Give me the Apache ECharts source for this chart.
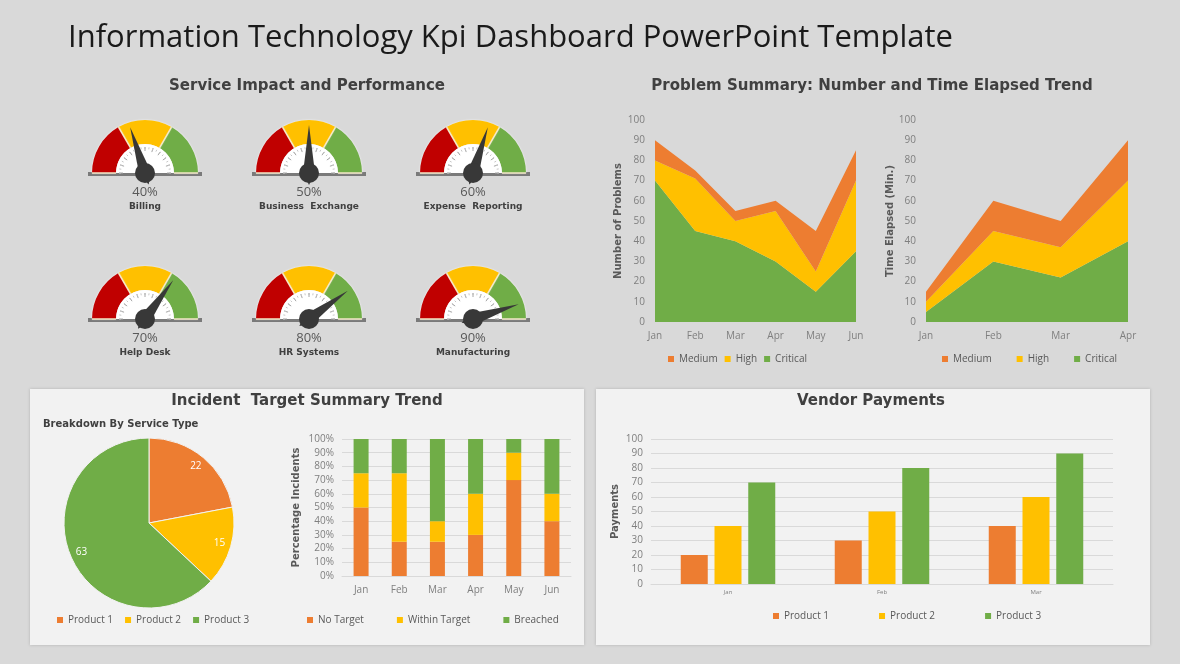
<!DOCTYPE html>
<html>
<head>
<meta charset="utf-8">
<title>Information Technology Kpi Dashboard</title>
<script src="https://cdn.jsdelivr.net/npm/echarts@6/dist/echarts.min.js"></script>
<style>
	html, body { margin: 0; padding: 0; background: #d9d9d9; }
	#main { width: 1180px; height: 664px; }
</style>
</head>
<body>
<div id="main"></div>
<script>
	// gauges
	var gaugeNames = ['Billing', 'Business  Exchange', 'Expense  Reporting', 'Help Desk', 'HR Systems', 'Manufacturing'];
	var gaugeValues = [40, 50, 60, 70, 80, 90];

	// problem summary
	var problemMonths = ['Jan', 'Feb', 'Mar', 'Apr', 'May', 'Jun'];
	var problemCritical = [70, 45, 40, 30, 15, 35];
	var problemHigh = [10, 26, 10, 25, 10, 35];
	var problemMedium = [10, 4, 5, 5, 20, 15];

	// time elapsed
	var elapsedMonths = ['Jan', 'Feb', 'Mar', 'Apr'];
	var elapsedCritical = [5, 30, 22, 40];
	var elapsedHigh = [5, 15, 15, 30];
	var elapsedMedium = [5, 15, 13, 20];

	// breakdown by service type
	var productNames = ['Product 1', 'Product 2', 'Product 3'];
	var serviceBreakdown = [22, 15, 63];

	// incident target trend (%)
	var incidentMonths = ['Jan', 'Feb', 'Mar', 'Apr', 'May', 'Jun'];
	var noTarget = [50, 25, 25, 30, 70, 40];
	var withinTarget = [25, 50, 15, 30, 20, 20];
	var breached = [25, 25, 60, 40, 10, 40];

	// vendor payments
	var vendorMonths = ['Jan', 'Feb', 'Mar'];
	var vendorProduct1 = [20, 30, 40];
	var vendorProduct2 = [40, 50, 60];
	var vendorProduct3 = [70, 80, 90];

	var ORANGE = '#ED7D31', YELLOW = '#FFC000', GREEN = '#70AD47', RED = '#C00000';
	var productColors = [ORANGE, YELLOW, GREEN];
	var labelGray = '#7f7f7f';
	var titleFont = '"DejaVu Sans", Verdana, sans-serif';

	var chart = echarts.init(document.getElementById('main'));
	var series = [];
	var graphics = [];

	// panels
	[30, 596].forEach(function (x) {
		graphics.push({
			type: 'rect', z: 0,
			shape: { x: x, y: 389, width: 554, height: 256 },
			style: { fill: '#f2f2f2', shadowBlur: 3, shadowColor: 'rgba(0,0,0,0.18)' }
		});
	});

	function text(str, x, y, font, fill, align) {
		graphics.push({
			type: 'text', z: 10, x: x, y: y,
			style: { text: str, font: font, fill: fill, align: align || 'center', textAlign: align || 'center', verticalAlign: 'middle', textVerticalAlign: 'middle' }
		});
	}
	text('Information Technology Kpi Dashboard PowerPoint Template', 68, 38, '31px "Open Sans", sans-serif', '#1a1a1a', 'left');
	text('Service Impact and Performance', 307, 86, 'bold 15px ' + titleFont, '#404040');
	text('Problem Summary: Number and Time Elapsed Trend', 872, 86, 'bold 15px ' + titleFont, '#404040');
	text('Incident  Target Summary Trend', 307, 401, 'bold 15px ' + titleFont, '#404040');
	text('Vendor Payments', 871, 401, 'bold 15px ' + titleFont, '#404040');
	text('Breakdown By Service Type', 43, 424, 'bold 10px ' + titleFont, '#404040', 'left');

	// gauges
	var gaugeCols = [145, 309, 473], gaugeRows = [173, 319];
	gaugeValues.forEach(function (v, i) {
		var c = [gaugeCols[i % 3], gaugeRows[Math.floor(i / 3)]];
		graphics.push({
			type: 'rect', z: 1,
			shape: { x: c[0] - 57, y: c[1] - 1, width: 114, height: 4 },
			style: { fill: '#7a7a7a' }
		});
		series.push({
			type: 'gauge', center: c, radius: 53, startAngle: 180, endAngle: 0,
			min: 0, max: 100, splitNumber: 3, animation: false, silent: true,
			axisLine: { lineStyle: { width: 24, color: [[1 / 3, RED], [2 / 3, YELLOW], [1, GREEN]], shadowBlur: 2, shadowColor: 'rgba(255,255,255,0.9)' } },
			splitLine: { distance: -24, length: 24, lineStyle: { color: '#f5e9c9', width: 1.5 } },
			axisTick: { show: false }, axisLabel: { show: false },
			pointer: { show: false }, anchor: { show: false },
			title: { show: false }, detail: { show: false },
			data: [{ value: v }]
		});
		series.push({
			type: 'gauge', center: c, radius: 29, startAngle: 180, endAngle: 0,
			min: 0, max: 100, splitNumber: 10, animation: false,
			axisLine: { lineStyle: { width: 29, color: [[1, '#ffffff']] } },
			splitLine: { distance: -26, length: 4, lineStyle: { color: '#a6a6a6', width: 1 } },
			axisTick: { distance: -26, length: 2, splitNumber: 2, lineStyle: { color: '#c8c8c8', width: 1 } },
			axisLabel: { show: false },
			pointer: { length: 48, width: 6, itemStyle: { color: '#383838' } },
			anchor: { show: true, size: 20, showAbove: true, itemStyle: { color: '#383838' } },
			title: { offsetCenter: [0, 34], fontSize: 9, fontWeight: 'bold', color: '#404040', fontFamily: titleFont },
			detail: { offsetCenter: [0, 19], fontSize: 13, fontWeight: 'normal', color: '#595959', formatter: '{value}%', fontFamily: 'Open Sans' },
			data: [{ value: v, name: gaugeNames[i] }]
		});
	});

	function area(name, data, color, stack, idx) {
		return {
			type: 'line', name: name, data: data, stack: stack,
			xAxisIndex: idx, yAxisIndex: idx, symbol: 'none', showSymbol: false,
			lineStyle: { width: 0 }, itemStyle: { color: color },
			areaStyle: { color: color, opacity: 1 }
		};
	}
	series.push(area('Critical', problemCritical, GREEN, 'problems', 0));
	series.push(area('High', problemHigh, YELLOW, 'problems', 0));
	series.push(area('Medium', problemMedium, ORANGE, 'problems', 0));
	series.push(area('Critical', elapsedCritical, GREEN, 'elapsed', 1));
	series.push(area('High', elapsedHigh, YELLOW, 'elapsed', 1));
	series.push(area('Medium', elapsedMedium, ORANGE, 'elapsed', 1));

	// pie
	series.push({
		type: 'pie', center: [149, 523], radius: 85, startAngle: 90, clockwise: true,
		label: { show: false }, labelLine: { show: false },
		itemStyle: { borderColor: '#f2f2f2', borderWidth: 1 },
		data: productNames.map(function (n, i) {
			return { name: n, value: serviceBreakdown[i], itemStyle: { color: productColors[i] } };
		})
	});
	series.push({
		type: 'pie', center: [149, 523], radius: [56, 85], startAngle: 90, clockwise: true,
		silent: true, legendHoverLink: false,
		itemStyle: { color: 'rgba(0,0,0,0)' },
		label: { position: 'inside', color: '#ffffff', fontSize: 10, formatter: '{c}' },
		data: productNames.map(function (n, i) { return { name: n, value: serviceBreakdown[i] }; })
	});

	// incident bars
	[['No Target', noTarget, ORANGE], ['Within Target', withinTarget, YELLOW], ['Breached', breached, GREEN]].forEach(function (s) {
		series.push({
			type: 'bar', name: s[0], data: s[1], stack: 'incident',
			xAxisIndex: 2, yAxisIndex: 2, barWidth: 15, itemStyle: { color: s[2] }
		});
	});

	// vendor bars
	[vendorProduct1, vendorProduct2, vendorProduct3].forEach(function (d, i) {
		series.push({
			type: 'bar', name: productNames[i], data: d,
			xAxisIndex: 3, yAxisIndex: 3, barWidth: 27, barGap: '25%',
			itemStyle: { color: productColors[i] }
		});
	});

	var catLabel = { color: labelGray, fontSize: 10, margin: 9 };
	var valLabel = { color: labelGray, fontSize: 10 };
	var nameStyle = { fontWeight: 'bold', fontSize: 10, color: '#595959', fontFamily: titleFont };
	var legendBase = { icon: 'rect', itemWidth: 6, itemHeight: 6, textStyle: { fontSize: 10, color: '#595959' }, selectedMode: false };

	chart.setOption({
		backgroundColor: '#d9d9d9',
		animation: false,
		textStyle: { fontFamily: 'Open Sans' },
		graphic: graphics,
		grid: [
			{ left: 655, right: 324, top: 120, bottom: 342 },
			{ left: 926, right: 52, top: 120, bottom: 342 },
			{ left: 342, right: 609, top: 439, bottom: 88 },
			{ left: 651, right: 67, top: 439, bottom: 80 }
		],
		xAxis: [
			{ gridIndex: 0, type: 'category', data: problemMonths, boundaryGap: false, axisLine: { show: false }, axisTick: { show: false }, axisLabel: catLabel },
			{ gridIndex: 1, type: 'category', data: elapsedMonths, boundaryGap: false, axisLine: { show: false }, axisTick: { show: false }, axisLabel: catLabel },
			{ gridIndex: 2, type: 'category', data: incidentMonths, axisLine: { lineStyle: { color: '#d9d9d9' } }, axisTick: { show: false }, axisLabel: catLabel },
			{ gridIndex: 3, type: 'category', data: vendorMonths, axisLine: { lineStyle: { color: '#d9d9d9' } }, axisTick: { show: false }, axisLabel: { color: labelGray, fontSize: 6, margin: 5 } }
		],
		yAxis: [
			{ gridIndex: 0, type: 'value', min: 0, max: 100, interval: 10, name: 'Number of Problems', nameLocation: 'middle', nameGap: 32, nameTextStyle: nameStyle,
				axisLabel: Object.assign({ margin: 10 }, valLabel), splitLine: { show: false }, axisLine: { show: false } },
			{ gridIndex: 1, type: 'value', min: 0, max: 100, interval: 10, name: 'Time Elapsed (Min.)', nameLocation: 'middle', nameGap: 31, nameTextStyle: nameStyle,
				axisLabel: Object.assign({ margin: 10 }, valLabel), splitLine: { show: false }, axisLine: { show: false } },
			{ gridIndex: 2, type: 'value', min: 0, max: 100, interval: 10, name: 'Percentage Incidents', nameLocation: 'middle', nameGap: 41, nameTextStyle: nameStyle,
				axisLabel: Object.assign({ margin: 8, formatter: '{value}%' }, valLabel), splitLine: { lineStyle: { color: '#d9d9d9' } }, axisLine: { show: false } },
			{ gridIndex: 3, type: 'value', min: 0, max: 100, interval: 10, name: 'Payments', nameLocation: 'middle', nameGap: 31, nameTextStyle: nameStyle,
				axisLabel: Object.assign({ margin: 8 }, valLabel), splitLine: { lineStyle: { color: '#d9d9d9' } }, axisLine: { show: false } }
		],
		legend: [
			Object.assign({ data: ['Medium', 'High', 'Critical'], left: 663, top: 349, itemGap: 7 }, legendBase),
			Object.assign({ data: ['Medium', 'High', 'Critical'], left: 937, top: 349, itemGap: 25 }, legendBase),
			Object.assign({ data: productNames, left: 52, top: 610, itemGap: 12 }, legendBase),
			Object.assign({ data: ['No Target', 'Within Target', 'Breached'], left: 302, top: 610, itemGap: 33 }, legendBase),
			Object.assign({ data: productNames, left: 768, top: 606, itemGap: 50 }, legendBase)
		],
		series: series
	});
</script>
</body>
</html>
